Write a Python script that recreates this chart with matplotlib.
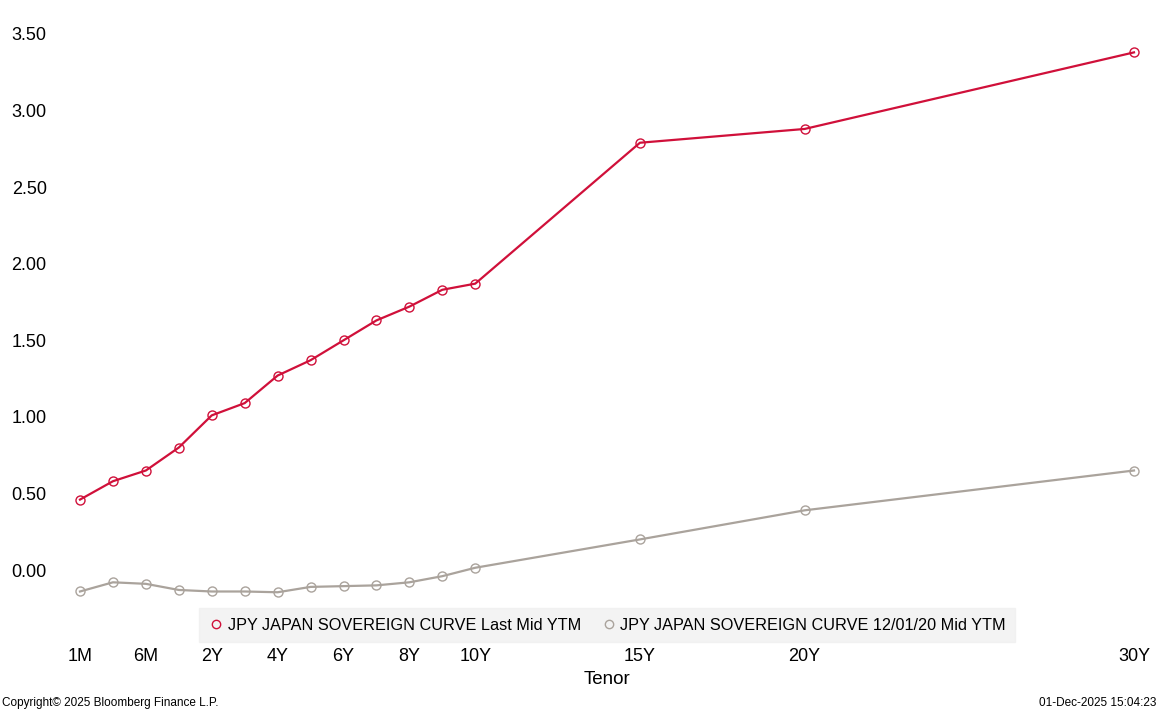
#Import necessary libraries
import numpy as np
import matplotlib
matplotlib.use('Agg')
import matplotlib.pyplot as plt
from matplotlib.lines import Line2D

#Tenors and their positions on the axis (first points evenly spaced, long end by years)
tenors = ['1M', '3M', '6M', '1Y', '2Y', '3Y', '4Y', '5Y', '6Y', '7Y', '8Y', '9Y', '10Y', '15Y', '20Y', '30Y']
tenor_pos = [0, 1, 2, 3, 4, 5, 6, 7, 8, 9, 10, 11, 12, 17, 22, 32]
tick_labels = ['1M', '6M', '2Y', '4Y', '6Y', '8Y', '10Y', '15Y', '20Y', '30Y']
tick_pos = [0, 2, 4, 6, 8, 10, 12, 17, 22, 32]

#Yields (%)
last_ytm = [0.46, 0.58, 0.65, 0.80, 1.01, 1.09, 1.27, 1.37, 1.50, 1.63, 1.72, 1.83, 1.87, 2.79, 2.88, 3.38]
old_ytm = [-0.14, -0.08, -0.09, -0.13, -0.14, -0.14, -0.145, -0.11, -0.105, -0.10, -0.08, -0.04, 0.015, 0.20, 0.39, 0.65]

label_last = 'JPY JAPAN SOVEREIGN CURVE Last Mid YTM'
label_old = 'JPY JAPAN SOVEREIGN CURVE 12/01/20 Mid YTM'

red = '#d0103a'
grey = '#aaa39c'

plt.rcParams['font.family'] = ['Liberation Sans', 'DejaVu Sans']

W, H = 1158, 711
fig = plt.figure(figsize=(W / 100, H / 100), dpi=100)
#axes placed in pixel terms: x 80..1134, y 34..616
ax = fig.add_axes([80 / W, (H - 616) / H, 1054 / W, 582 / H])

ax.plot(tenor_pos, old_ytm, color=grey, lw=1.6, marker='o', ms=6.5,
        mfc='none', mec=grey, mew=1.0, clip_on=False, zorder=3)
ax.plot(tenor_pos, last_ytm, color=red, lw=1.6, marker='o', ms=6.5,
        mfc='none', mec=red, mew=1.0, clip_on=False, zorder=4)

ax.set_xlim(0, 32)
ax.set_ylim(-0.3, 3.5)
ax.set_yticks(np.arange(0, 3.51, 0.5))
ax.set_yticklabels(['%.2f' % v for v in np.arange(0, 3.51, 0.5)])
ax.set_xticks(tick_pos)
ax.set_xticklabels(tick_labels)
ax.tick_params(axis='y', length=0, pad=24, labelsize=13)
ax.tick_params(axis='x', length=0, pad=23, labelsize=13)
for s in ax.spines.values():
    s.set_visible(False)

ax.set_xlabel('Tenor', fontsize=13.5, labelpad=4)

#Legend with marker-only handles
handles = [Line2D([], [], ls='none', marker='o', ms=6, mfc='none', mec=red, mew=1.0),
           Line2D([], [], ls='none', marker='o', ms=6, mfc='none', mec=grey, mew=1.0)]
leg = fig.legend(handles, [label_last, label_old], loc='center', ncol=2,
                 bbox_to_anchor=(607 / W, 1 - 625 / H), fontsize=11.7,
                 frameon=True, fancybox=False, handletextpad=0.2,
                 columnspacing=1.2, handlelength=1.0, borderpad=0.6)
leg.get_frame().set_facecolor('#f0f0f0')
leg.get_frame().set_edgecolor('#f0f0f0')

fig.text(2 / W, 1 - 703 / H, 'Copyright\u00a9 2025 Bloomberg Finance L.P.', fontsize=8.5,
         ha='left', va='center')
fig.text(1156 / W, 1 - 703 / H, '01-Dec-2025 15:04:23', fontsize=8.5,
         ha='right', va='center')

fig.savefig('out.png', dpi=100)
